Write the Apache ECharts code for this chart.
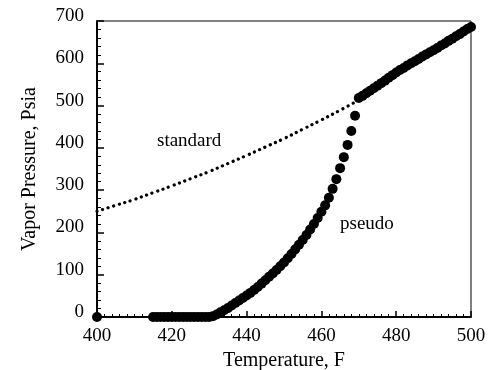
<!DOCTYPE html>
<html>
<head>
<meta charset="utf-8">
<script src="https://cdn.jsdelivr.net/npm/echarts@6/dist/echarts.min.js"></script>
<style>
html,body{margin:0;padding:0;background:#fff;}
#chart{width:488px;height:370px;}
</style>
</head>
<body>
<div id="chart"></div>
<script>
// Pseudo vapor pressure (markers), temperature F
const pseudoT = [400,
  415,416,417,418,419,420,421,422,423,424,425,426,427,428,429,430,
  431,432,433,434,435,436,437,438,439,440,441,442,443,444,445,446,447,448,449,450,
  451,452,453,454,455,456,457,458,459,460,461,462,463,464,465,466,467,468,469,
  470,471,472,473,474,475,476,477,478,479,480,481,482,483,484,485,486,487,488,489,490,
  491,492,493,494,495,496,497,498,499,500];
const pseudoP = [0,
  0,0,0,0,0,0,0,0,0,0,0,0,0,0,0,0,
  2,6,11,16,21,27,33,39,45,51,57,64,71,79,87,95,103,111,120,129,
  139,149,160,171,182,194,207,220,234,249,264,282,303,326,352,378,407,440,476,
  518,523,529,535,541,547,553,559,566,572,578,584,589,595,600,605,610,616,621,626,631,
  636,642,647,653,658,664,669,675,681,686];
// Standard vapor pressure (dotted line)
const standardT = [400,405,410,415,420,425,430,435,440,445,450,455,460,465,469];
const standardP = [250,264,278,294,310,327,344,363,382,402,422,444,466,489,508];
// Axis ticks
const xTicks = {min:400, max:500, step:20};
const yTicks = {min:0, max:700, step:100};
const labels = {x:'Temperature, F', y:'Vapor Pressure, Psia', standard:'standard', pseudo:'pseudo'};

const font = '"Liberation Serif","Times New Roman",serif';
const chart = echarts.init(document.getElementById('chart'), null, {renderer:'canvas'});
chart.setOption({
  animation:false,
  backgroundColor:'#fff',
  grid:{left:97,right:17,top:21,bottom:53,show:true,borderColor:'#000',borderWidth:1,
        containLabel:false,outerBoundsMode:'none'},
  xAxis:{
    type:'value', min:xTicks.min, max:xTicks.max, interval:xTicks.step,
    name:labels.x, nameLocation:'middle', nameGap:30,
    nameTextStyle:{fontFamily:font,fontSize:20,color:'#000'},
    axisLine:{lineStyle:{color:'#000',width:2}},
    axisTick:{inside:true,length:6,lineStyle:{color:'#000',width:1.5}},
    minorTick:{show:true,splitNumber:10,length:3,lineStyle:{color:'#000',width:1}},
    axisLabel:{fontFamily:font,fontSize:19,color:'#000',margin:10},
    splitLine:{show:false}
  },
  yAxis:{
    type:'value', min:yTicks.min, max:yTicks.max, interval:yTicks.step,
    name:labels.y, nameLocation:'middle', nameGap:57,
    nameTextStyle:{fontFamily:font,fontSize:20,color:'#000'},
    axisLine:{show:true,lineStyle:{color:'#000',width:2}},
    axisTick:{show:true,inside:true,length:7,lineStyle:{color:'#000',width:1.5}},
    minorTick:{show:true,splitNumber:5,length:4,lineStyle:{color:'#000',width:1}},
    axisLabel:{fontFamily:font,fontSize:19,color:'#000',margin:13,verticalAlign:'bottom',lineHeight:10},
    splitLine:{show:false}
  },
  series:[
    {
      type:'line', data:standardT.map((t,i)=>[t,standardP[i]]),
      smooth:true, showSymbol:false, symbol:'none',
      lineStyle:{color:'#000',width:3.2,type:[0.1,5.7],cap:'round'},
      z:2
    },
    {
      type:'scatter', data:pseudoT.map((t,i)=>[t,pseudoP[i]]),
      symbol:'circle', symbolSize:10,
      itemStyle:{color:'#000',opacity:1},
      clip:false, z:3
    }
  ],
  graphic:[
    {type:'text',left:157,top:132,style:{text:labels.standard,fontFamily:font,fontSize:19,fill:'#000'}},
    {type:'text',left:340,top:215,style:{text:labels.pseudo,fontFamily:font,fontSize:19,fill:'#000'}}
  ]
});
</script>
</body>
</html>
